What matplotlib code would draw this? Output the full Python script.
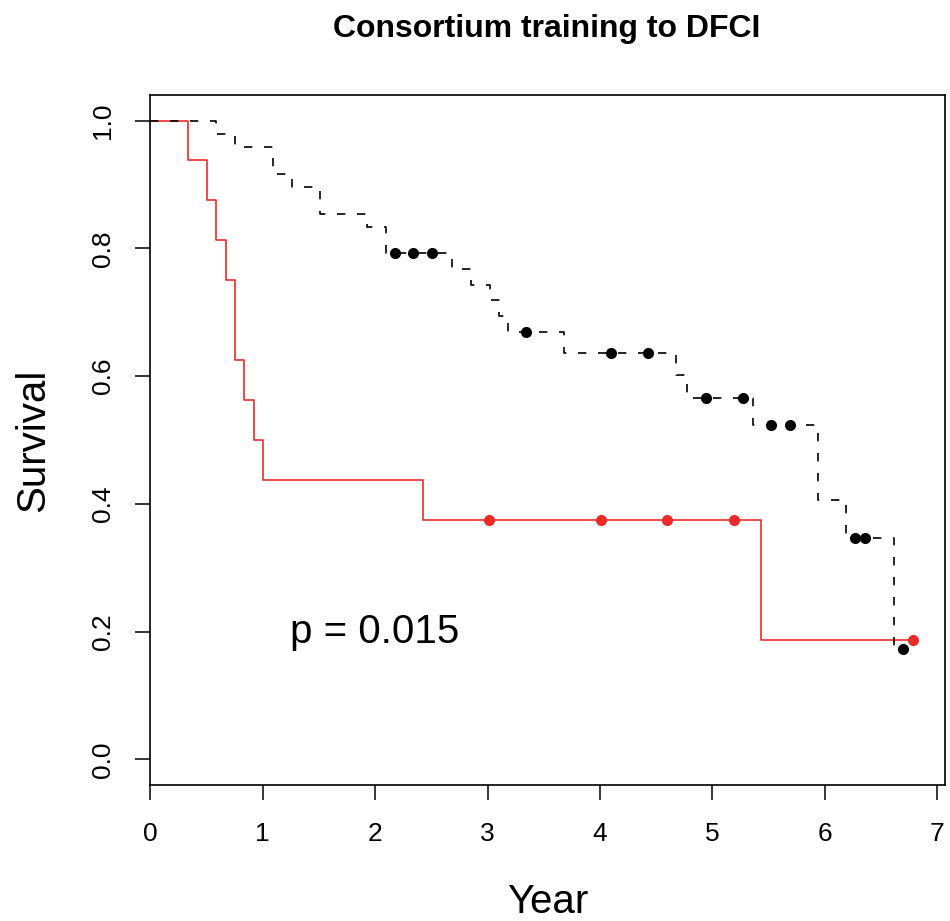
import matplotlib
matplotlib.use("Agg")
import matplotlib.pyplot as plt

plt.rcParams['font.family'] = ['Liberation Sans', 'DejaVu Sans']

# red group: event times / survival after each step (step 'post')
red_time = [0, 0.341, 0.504, 0.590, 0.673, 0.756, 0.839, 0.922, 1.008, 2.426, 5.430, 6.78]
red_surv = [1.0, 0.9375, 0.875, 0.8125, 0.75, 0.625, 0.5625, 0.5, 0.4375, 0.375, 0.1875, 0.1875]
red_cens_time = [3.01, 4.01, 4.60, 5.19, 6.78]
red_cens_surv = [0.375, 0.375, 0.375, 0.375, 0.1875]

# black group
blk_time = [0, 0.587, 0.756, 1.09, 1.26, 1.51, 1.93, 2.10, 2.68, 2.85, 3.02, 3.10, 3.18,
            3.68, 4.68, 4.77, 5.36, 5.94, 6.19, 6.61, 6.69]
blk_surv = [1.0, 0.979, 0.958, 0.917, 0.896, 0.854, 0.833, 0.792, 0.767, 0.743, 0.719, 0.694,
            0.669, 0.636, 0.601, 0.566, 0.523, 0.406, 0.347, 0.173, 0.173]
blk_cens_time = [2.18, 2.34, 2.51, 3.345, 4.10, 4.43, 4.94, 5.27, 5.52, 5.69, 6.27, 6.36, 6.69]
blk_cens_surv = [0.792, 0.792, 0.792, 0.669, 0.636, 0.636, 0.566, 0.566, 0.523, 0.523,
                 0.347, 0.347, 0.173]

x_ticks = [0, 1, 2, 3, 4, 5, 6, 7]
y_ticks = [0.0, 0.2, 0.4, 0.6, 0.8, 1.0]
y_tick_labels = ['0.0', '0.2', '0.4', '0.6', '0.8', '1.0']

red = '#EE2A2A'

fig = plt.figure(figsize=(9.5, 9.21), dpi=100)
ax = fig.add_axes([0.158, 0.1477, 0.837, 0.7492])

ax.step(red_time, red_surv, where='post', color=red, lw=1.2)
ax.step(blk_time, blk_surv, where='post', color='black', lw=1.2, linestyle=(0, (5, 7)))
ax.plot(red_cens_time, red_cens_surv, 'o', color=red, ms=8, mec='none')
ax.plot(blk_cens_time, blk_cens_surv, 'o', color='black', ms=8, mec='none')

ax.text(2.0, 0.2, 'p = 0.015', ha='center', va='center', fontsize=29)

ax.set_xlim(0, 7.07)
ax.set_ylim(-0.04, 1.04)
ax.set_xticks(x_ticks)
ax.set_yticks(y_ticks)
ax.set_yticklabels(y_tick_labels, rotation=90, va='center')
ax.tick_params(axis='both', direction='out', length=11, width=1.1, labelsize=19, pad=14)
ax.tick_params(axis='x', pad=16)
for s in ax.spines.values():
    s.set_linewidth(1.2)

ax.set_xlabel('Year', fontsize=29, labelpad=26)
ax.set_ylabel('Survival', fontsize=29, labelpad=28)
fig.text(0.575, 0.968, 'Consortium training to DFCI', ha='center', va='center',
         fontsize=23, fontweight='bold')

fig.savefig('out.png', dpi=100)
